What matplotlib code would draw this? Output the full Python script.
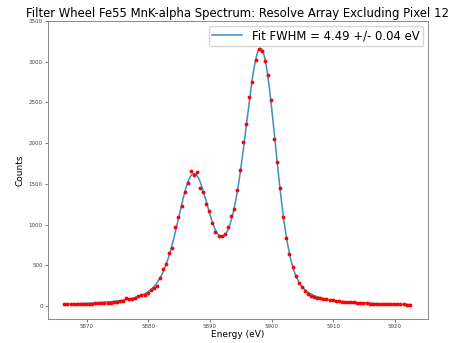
import numpy as np
import matplotlib
matplotlib.use("Agg")
import matplotlib.pyplot as plt

# Measured spectrum, 0.5 eV bins starting at 5866.4 eV
energy = np.arange(5866.4, 5922.45, 0.5)
counts = [20, 22, 21, 23, 22, 25, 21, 26, 28, 27, 33, 31, 35, 33, 38, 42, 45, 53, 61, 66,
          95, 80, 82, 98, 118, 135, 139, 160, 197, 215, 246, 348, 451, 513, 648, 715, 968, 1095, 1232, 1395,
          1510, 1652, 1612, 1640, 1450, 1405, 1255, 1169, 1015, 914, 855, 861, 880, 975, 1105, 1195, 1427, 1664, 2013, 2239,
          2562, 2752, 3020, 3150, 3130, 3005, 2833, 2534, 2045, 1767, 1448, 1098, 833, 640, 483, 373, 287, 230, 180, 150,
          128, 112, 100, 92, 85, 80, 72, 68, 62, 56, 54, 50, 46, 52, 43, 36, 38, 34, 33, 30,
          27, 28, 25, 24, 26, 23, 25, 22, 24, 20, 18, 14, 6]

# Fitted MnK-alpha line shape, sampled every 0.25 eV
fit_energy = np.arange(5866.4, 5922.45, 0.25)
fit_counts = [23, 24, 24, 25, 25, 26, 26, 27, 28, 28,
              29, 30, 31, 31, 32, 33, 34, 35, 36, 37,
              38, 39, 40, 41, 43, 44, 46, 47, 49, 50,
              52, 54, 56, 58, 60, 63, 65, 68, 71, 74,
              77, 81, 85, 89, 93, 98, 103, 109, 116, 123,
              131, 139, 149, 160, 172, 185, 200, 217, 236, 258,
              283, 310, 341, 377, 416, 460, 509, 563, 623, 687,
              757, 831, 909, 990, 1073, 1156, 1238, 1317, 1390, 1457,
              1514, 1561, 1596, 1618, 1626, 1621, 1602, 1571, 1529, 1477,
              1418, 1354, 1286, 1218, 1152, 1088, 1030, 978, 934, 898,
              872, 856, 850, 854, 868, 894, 930, 977, 1036, 1105,
              1187, 1280, 1384, 1500, 1626, 1762, 1906, 2057, 2211, 2366,
              2518, 2664, 2798, 2918, 3017, 3094, 3144, 3165, 3156, 3115,
              3045, 2946, 2821, 2675, 2511, 2334, 2149, 1961, 1775, 1593,
              1419, 1256, 1106, 970, 847, 739, 644, 561, 490, 430,
              378, 335, 298, 267, 240, 218, 199, 182, 168, 156,
              145, 136, 127, 120, 113, 107, 101, 96, 91, 87,
              83, 79, 76, 73, 70, 67, 64, 62, 60, 58,
              56, 54, 52, 50, 48, 47, 45, 44, 43, 41,
              40, 39, 38, 37, 36, 35, 34, 33, 32, 31,
              31, 30, 29, 29, 28, 27, 27, 26, 25, 25,
              24, 24, 23, 23, 22, 22, 21, 21, 21, 20,
              20, 19, 19, 19, 18]

fwhm = 4.49
fwhm_err = 0.04

fig = plt.figure(figsize=(4.52, 3.43), dpi=100)
ax = fig.add_axes([0.1055, 0.070, 0.8405, 0.869])

ax.plot(fit_energy, fit_counts, color='#3b8fc4', lw=1.1,
        label='Fit FWHM = %.2f +/- %.2f eV' % (fwhm, fwhm_err))
ax.plot(energy, counts, '.', color='red', ms=3.5)

ax.set_ylim(-160, 3500)
ax.set_xlim(5863.7, 5925.3)
ax.set_title('Filter Wheel Fe55 MnK-alpha Spectrum: Resolve Array Excluding Pixel 12', fontsize=8.4, pad=3)
ax.set_xlabel('Energy (eV)', fontsize=6.5, labelpad=1)
ax.set_ylabel('Counts', fontsize=6.5, labelpad=3)
ax.tick_params(labelsize=4, length=2, width=0.5, pad=1.5, colors='#444')
for s in ax.spines.values():
    s.set_color('#777')
    s.set_linewidth(0.6)
ax.legend(loc='upper right', fontsize=8.4, handlelength=2.6, borderpad=0.3, borderaxespad=0.4)

fig.savefig('out.png')
